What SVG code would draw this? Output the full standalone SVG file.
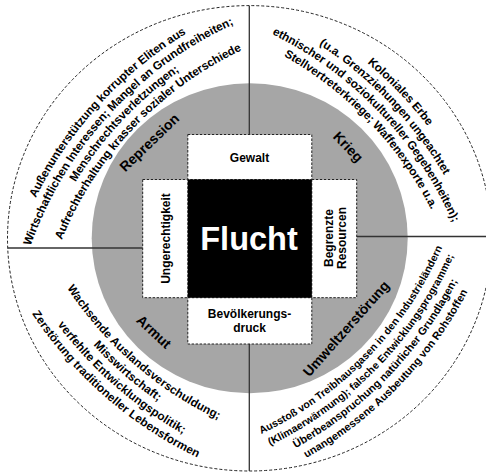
<svg xmlns="http://www.w3.org/2000/svg" width="486" height="473" viewBox="0 0 486 473">
<style>
text{font-family:"Liberation Sans",Arial,sans-serif;font-weight:bold;fill:#000}
.box{fill:#fff;stroke:#222;stroke-width:1;stroke-dasharray:2.5 1.5}
.conn{stroke:#333;stroke-width:1.3;fill:none}
.lbl{font-size:12px;text-anchor:middle}
.ring{font-size:14px;text-anchor:middle}
.o{font-size:11.7px;text-anchor:middle}
</style>
<defs>
<path id="tlA" d="M6.7,261 A405,405 0 0 1 246.6,-0.8"/>
<path id="tlB" d="M20.1,265 A391,391 0 0 1 251.7,12.2"/>
<path id="tlC" d="M34,265.6 A377.5,377.5 0 0 1 259.7,23.6"/>
<path id="tlD" d="M47.9,266.5 A364,364 0 0 1 267.5,35"/>
<path id="trA" d="M246.6,-11.6 A413,413 0 0 1 497.2,249.7"/>
<path id="trB" d="M241.8,1.5 A399,399 0 0 1 483.9,254"/>
<path id="trC" d="M236.9,14.7 A385,385 0 0 1 470.6,258.3"/>
<path id="trD" d="M232.1,27.8 A371,371 0 0 1 457.2,262.6"/>
<path id="blA" d="M39,227.1 A368,368 0 0 0 282.5,438.8"/>
<path id="blB" d="M25.6,232.7 A382.5,382.5 0 0 0 278.7,452.8"/>
<path id="blC" d="M12.3,238.4 A397,397 0 0 0 275,466.8"/>
<path id="blD" d="M-1.1,244.1 A411.5,411.5 0 0 0 271.2,480.8"/>
<path id="brA" d="M228.2,443.8 A365,365 0 0 0 450.9,214"/>
<path id="brB" d="M233,457 A379,379 0 0 0 464.2,218.4"/>
<path id="brC" d="M237.8,470.1 A393,393 0 0 0 477.5,222.7"/>
<path id="brD" d="M242.5,483.3 A407,407 0 0 0 490.9,227.1"/>
</defs>
<rect width="486" height="473" fill="#fff"/>
<g id="outer-ring">
<ellipse cx="249.5" cy="238.3" rx="242" ry="232.7" fill="#fff" stroke="#222" stroke-width="1" stroke-dasharray="3 2"/>
</g>
<g id="gray-ring">
<ellipse cx="249.7" cy="238.2" rx="158" ry="155" fill="#a6a6a6"/>
</g>
<g id="connectors">
<line class="conn" x1="249.3" y1="5.7" x2="249.3" y2="134.5"/>
<line class="conn" x1="249.3" y1="344" x2="249.3" y2="471"/>
<line class="conn" x1="7.5" y1="248" x2="142.7" y2="248"/>
<line class="conn" x1="356.7" y1="236.5" x2="486" y2="236.5"/>
</g>
<g id="gewalt">
<rect class="box" x="187.8" y="134.5" width="124" height="45"/>
<text class="lbl" x="249.5" y="162">Gewalt</text>
</g>
<g id="ungerechtigkeit">
<rect class="box" x="142.7" y="179.5" width="45.1" height="118.2"/>
<text class="lbl" transform="translate(170,238.5) rotate(-90)">Ungerechtigkeit</text>
</g>
<g id="begrenzte-resourcen">
<rect class="box" x="311.8" y="179.5" width="44.9" height="118.2"/>
<text class="lbl" transform="translate(333,238) rotate(-90)"><tspan x="0" y="0">Begrenzte</tspan><tspan x="0" y="12.5">Resourcen</tspan></text>
</g>
<g id="bevoelkerungsdruck">
<rect class="box" x="187.8" y="297.7" width="124" height="46.3"/>
<text class="lbl" x="249.5" y="317.5">Bevölkerungs-</text>
<text class="lbl" x="249.5" y="331.5">druck</text>
</g>
<g id="flucht">
<rect x="187.8" y="179.5" width="124" height="118.2" fill="#000"/>
<text x="249" y="250" font-size="32.5" text-anchor="middle" style="fill:#fff">Flucht</text>
</g>
<g id="repression">
<text class="ring" transform="translate(149.2,142.5) rotate(-44)" y="5">Repression</text>
<text class="o" dy="4"><textPath href="#tlA" startOffset="50%">Außenunterstützung korrupter Eliten aus</textPath></text>
<text class="o" dy="4"><textPath href="#tlB" startOffset="50%">Wirtschaftlichen Interessen;  Mangel an Grundfreiheiten;</textPath></text>
<text class="o" dy="4"><textPath href="#tlC" startOffset="50%">Menschrechtsverletzungen;</textPath></text>
<text class="o" dy="4"><textPath href="#tlD" startOffset="50%">Aufrechterhaltung krasser sozialer  Unterschiede</textPath></text>
</g>
<g id="krieg">
<text class="ring" transform="translate(348.3,146.7) rotate(46)" y="5">Krieg</text>
<text class="o" dy="4"><textPath href="#trA" startOffset="50%">Koloniales Erbe</textPath></text>
<text class="o" dy="4"><textPath href="#trB" startOffset="50%">(u.a.  Grenzziehungen  ungeachtet</textPath></text>
<text class="o" dy="4"><textPath href="#trC" startOffset="50%">ethnischer und soziokultureller Gegebenheiten);</textPath></text>
<text class="o" dy="4"><textPath href="#trD" startOffset="50%">Stellvertreterkriege;  Waffenexporte u.a.</textPath></text>
</g>
<g id="armut">
<text class="ring" transform="translate(154,331.7) rotate(43)" y="5">Armut</text>
<text class="o" dy="4"><textPath href="#blA" startOffset="50%">Wachsende Auslandsverschuldung;</textPath></text>
<text class="o" dy="4"><textPath href="#blB" startOffset="50%">Misswirtschaft;</textPath></text>
<text class="o" dy="4"><textPath href="#blC" startOffset="50%">verfehlte Entwicklungspolitik;</textPath></text>
<text class="o" dy="4"><textPath href="#blD" startOffset="50%">Zerstörung traditioneller Lebensformen</textPath></text>
</g>
<g id="umweltzerstoerung">
<text class="ring" transform="translate(346,328.5) rotate(-48.5)" y="5">Umweltzerstörung</text>
<text class="o" dy="3.7" style="font-size:10.4px"><textPath href="#brA" startOffset="50%">Ausstoß von Treibhausgasen in den Industrieländern</textPath></text>
<text class="o" dy="3.7" style="font-size:10.5px"><textPath href="#brB" startOffset="50%">(Klimaerwärmung); falsche Entwicklungsprogramme;</textPath></text>
<text class="o" dy="3.8" style="font-size:10.9px"><textPath href="#brC" startOffset="50%">Überbeanspruchung natürlicher Grundlagen;</textPath></text>
<text class="o" dy="3.8" style="font-size:10.8px"><textPath href="#brD" startOffset="50%">unangemessene Ausbeutung von Rohstoffen</textPath></text>
</g>
</svg>
